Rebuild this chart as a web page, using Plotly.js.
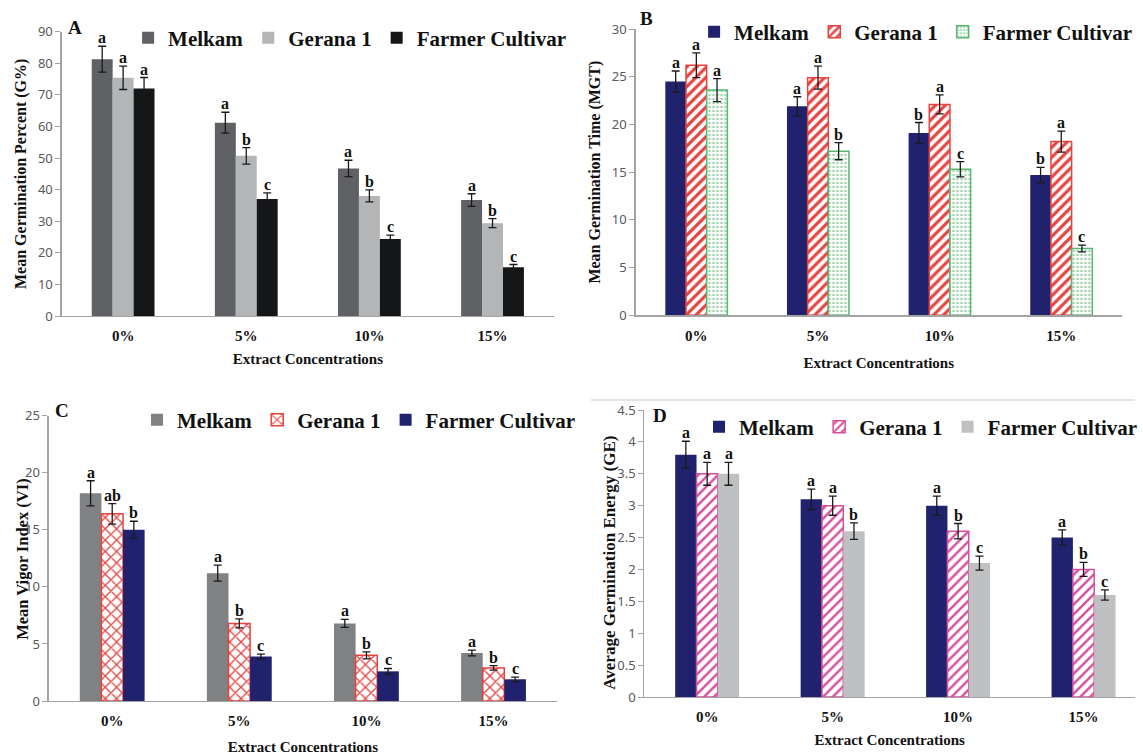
<!DOCTYPE html>
<html><head><meta charset="utf-8">
<script src="https://cdn.plot.ly/plotly-3.0.1.min.js"></script>
<style>html,body{margin:0;padding:0;background:#fff}#chart{width:1143px;height:755px}</style>
</head><body><div id="chart"></div>
<script>
// ---------------- data ----------------
const categories = ['0%', '5%', '10%', '15%'];
const seriesNames = ['Melkam', 'Gerana 1', 'Farmer Cultivar'];

// A: Mean Germination Percent (G%)
const gpMelkam = [81.3, 61.2, 46.7, 36.7];
const gpMelkamErr = [4.1, 3.3, 2.6, 2.0];
const gpGerana = [75.4, 50.7, 38.0, 29.4];
const gpGeranaErr = [3.7, 2.6, 1.9, 1.4];
const gpFarmer = [72.0, 37.0, 24.4, 15.4];
const gpFarmerErr = [3.5, 2.0, 1.2, 0.9];
const gpLetters = [['a','a','a','a'], ['a','b','b','b'], ['a','c','c','c']];

// B: Mean Germination Time (MGT)
const mgtMelkam = [24.5, 21.9, 19.1, 14.7];
const mgtMelkamErr = [1.1, 1.0, 1.1, 0.8];
const mgtGerana = [26.2, 24.9, 22.1, 18.2];
const mgtGeranaErr = [1.3, 1.2, 1.0, 1.1];
const mgtFarmer = [23.6, 17.2, 15.3, 7.0];
const mgtFarmerErr = [1.2, 0.9, 0.8, 0.35];
const mgtLetters = [['a','a','b','b'], ['a','a','a','a'], ['a','b','c','c']];

// C: Mean Vigor Index (VI)
const viMelkam = [18.2, 11.2, 6.8, 4.2];
const viMelkamErr = [1.1, 0.7, 0.35, 0.25];
const viGerana = [16.4, 6.8, 4.0, 2.9];
const viGeranaErr = [0.9, 0.4, 0.3, 0.2];
const viFarmer = [15.0, 3.9, 2.6, 1.9];
const viFarmerErr = [0.75, 0.2, 0.25, 0.2];
const viLetters = [['a','a','a','a'], ['ab','b','b','b'], ['b','c','c','c']];

// D: Average Germination Energy (GE)
const geMelkam = [3.8, 3.1, 3.0, 2.5];
const geMelkamErr = [0.21, 0.16, 0.15, 0.12];
const geGerana = [3.5, 3.0, 2.6, 2.0];
const geGeranaErr = [0.18, 0.15, 0.12, 0.11];
const geFarmer = [3.5, 2.6, 2.1, 1.6];
const geFarmerErr = [0.18, 0.13, 0.11, 0.08];
const geLetters = [['a','a','a','a'], ['a','a','b','b'], ['a','b','c','c']];

// ---------------- styling ----------------
const W = 1143, H = 755;
const fx = v => v / W;
const fy = v => 1 - v / H;
const SERIF = '"Times New Roman", "Liberation Serif", serif';
const BARGAP = 0.49;

const NAVY = '#20226e', RED = '#e5433f', GREEN = '#58b671', PINK = '#d4509e';
const styles = {
  A: [
    {marker: {color: '#5f6164', line: {width: 0}}},
    {marker: {color: '#b3b5b7', line: {width: 0}}},
    {marker: {color: '#141618', line: {width: 0}}}
  ],
  B: [
    {marker: {color: NAVY, line: {width: 0}}},
    {marker: {color: 'white', line: {color: RED, width: 1.5},
      pattern: {shape: '/', fgcolor: RED, bgcolor: 'white', size: 7, solidity: 0.45}}},
    {marker: {color: 'white', line: {color: GREEN, width: 1.5},
      pattern: {shape: '.', fgcolor: '#9fd3ab', bgcolor: 'white', size: 4, solidity: 0.35}}}
  ],
  C: [
    {marker: {color: '#808183', line: {width: 0}}},
    {marker: {color: 'white', line: {color: RED, width: 1.5},
      pattern: {shape: 'x', fgcolor: RED, bgcolor: 'white', size: 8, solidity: 0.3}}},
    {marker: {color: NAVY, line: {width: 0}}}
  ],
  D: [
    {marker: {color: NAVY, line: {width: 0}}},
    {marker: {color: 'white', line: {color: PINK, width: 1.5},
      pattern: {shape: '/', fgcolor: PINK, bgcolor: 'white', size: 7, solidity: 0.35}}},
    {marker: {color: '#bfc0c2', line: {width: 0}}}
  ]
};

const panels = [
  {key: 'A', xa: 'x', ya: 'y', legend: 'legend',
   vals: [gpMelkam, gpGerana, gpFarmer], errs: [gpMelkamErr, gpGeranaErr, gpFarmerErr], letters: gpLetters},
  {key: 'B', xa: 'x2', ya: 'y2', legend: 'legend2',
   vals: [mgtMelkam, mgtGerana, mgtFarmer], errs: [mgtMelkamErr, mgtGeranaErr, mgtFarmerErr], letters: mgtLetters},
  {key: 'C', xa: 'x3', ya: 'y3', legend: 'legend3',
   vals: [viMelkam, viGerana, viFarmer], errs: [viMelkamErr, viGeranaErr, viFarmerErr], letters: viLetters},
  {key: 'D', xa: 'x4', ya: 'y4', legend: 'legend4',
   vals: [geMelkam, geGerana, geFarmer], errs: [geMelkamErr, geGeranaErr, geFarmerErr], letters: geLetters}
];

const traces = [];
const annotations = [];
const letterFont = {family: SERIF, size: 16, color: '#111', weight: 'bold'};
const slot = (1 - BARGAP) / 3;

panels.forEach(p => {
  seriesNames.forEach((name, j) => {
    const st = styles[p.key][j];
    traces.push({
      type: 'bar', name: name, x: categories, y: p.vals[j],
      xaxis: p.xa, yaxis: p.ya, legend: p.legend,
      marker: st.marker,
      error_y: {type: 'data', array: p.errs[j], visible: true, color: '#1a1a1a', thickness: 1.3, width: 4},
      hoverinfo: 'x+y+name'
    });
    categories.forEach((c, i) => {
      annotations.push({
        xref: p.xa, yref: p.ya, x: i + (j - 1) * slot, y: p.vals[j][i] + p.errs[j][i],
        text: p.letters[j][i], showarrow: false, yanchor: 'bottom', xanchor: 'center',
        yshift: -2, font: letterFont
      });
    });
  });
});

// panel letters
[['A', 76, 27], ['B', 651, 19], ['C', 62, 410], ['D', 665, 415]].forEach(([t, x, y]) => {
  annotations.push({xref: 'paper', yref: 'paper', x: fx(x), y: fy(y), text: t, showarrow: false,
    xanchor: 'center', yanchor: 'middle', font: {family: SERIF, size: 19, color: '#111', weight: 'bold'}});
});

// y titles for C and D (they overlap tick labels in the original)
annotations.push({xref: 'paper', yref: 'paper', x: fx(22), y: fy(559), text: 'Mean Vigor Index (VI)',
  textangle: -90, showarrow: false, xanchor: 'center', yanchor: 'middle',
  font: {family: SERIF, size: 16.5, color: '#111', weight: 'bold'}});
annotations.push({xref: 'paper', yref: 'paper', x: fx(613), y: fy(563), text: 'Average Germination Energy (GE)',
  textangle: -90, showarrow: false, xanchor: 'center', yanchor: 'middle',
  font: {family: SERIF, size: 17, color: '#111', weight: 'bold'}});

const catFont = {family: SERIF, size: 15, color: '#111', weight: 'bold'};
const titleFont = {family: SERIF, size: 15, color: '#111', weight: 'bold'};
const yTitleFont = {family: SERIF, size: 16, color: '#111', weight: 'bold'};
const tickFont = {family: '"Noto Sans", "Open Sans", sans-serif', size: 13, color: '#595959'};

function xAxis(d0, d1, anchor, range, standoff) {
  return {domain: [fx(d0), fx(d1)], anchor: anchor, type: 'category', range: range,
    showline: true, linecolor: '#a3a3a3', linewidth: 1.2, ticks: '', showgrid: false, zeroline: false,
    tickfont: catFont, ticklabelstandoff: 6, fixedrange: true,
    title: {text: 'Extract Concentrations', font: titleFont, standoff: standoff}};
}
function yAxis(top, bottom, anchor, range, dtick, title) {
  const ax = {domain: [fy(bottom), fy(top)], anchor: anchor, range: range, dtick: dtick,
    showline: true, linecolor: '#a3a3a3', linewidth: 1.2, ticks: 'outside', ticklen: 5, tickcolor: '#a3a3a3',
    showgrid: false, zeroline: false, tickfont: tickFont, fixedrange: true};
  if (title) ax.title = {text: title, font: yTitleFont, standoff: 7};
  return ax;
}
function legendAt(x0, yc) {
  return {orientation: 'h', x: fx(x0), xanchor: 'left', y: fy(yc), yanchor: 'middle',
    bgcolor: 'rgba(0,0,0,0)', traceorder: 'normal',
    font: {family: SERIF, size: 21, color: '#111', weight: 'bold'}};
}

const layout = {
  width: W, height: H, margin: {l: 0, r: 0, t: 0, b: 0},
  paper_bgcolor: 'white', plot_bgcolor: 'rgba(0,0,0,0)',
  barmode: 'group', bargap: BARGAP, bargroupgap: 0,
  showlegend: true,
  xaxis: xAxis(62, 558, 'y', [-0.5, 3.5], 10),
  yaxis: yAxis(31.7, 316, 'x', [0, 90], 10, 'Mean Germination Percent (G%)'),
  xaxis2: xAxis(640, 1130, 'y2', [-0.5, 3.5], 15),
  yaxis2: yAxis(29, 315.3, 'x2', [0, 30], 5, 'Mean Germination Time (MGT)'),
  xaxis3: xAxis(49, 561, 'y3', [-0.5, 3.5], 13),
  yaxis3: yAxis(415.7, 701, 'x3', [0, 25], 5, null),
  xaxis4: xAxis(649, 1143, 'y4', [-0.5, 3.41], 10),
  yaxis4: yAxis(410, 697, 'x4', [0, 4.5], 0.5, null),
  legend: legendAt(129, 38),
  legend2: legendAt(699, 32),
  legend3: legendAt(138, 420),
  legend4: legendAt(704, 427),
  annotations: annotations,
  shapes: [{type: 'line', xref: 'paper', yref: 'paper', x0: fx(595), x1: 1, y0: fy(400), y1: fy(400),
    line: {color: '#dcdcdc', width: 1.5}}]
};

Plotly.newPlot('chart', traces, layout, {displayModeBar: false, staticPlot: true});
</script></body></html>
